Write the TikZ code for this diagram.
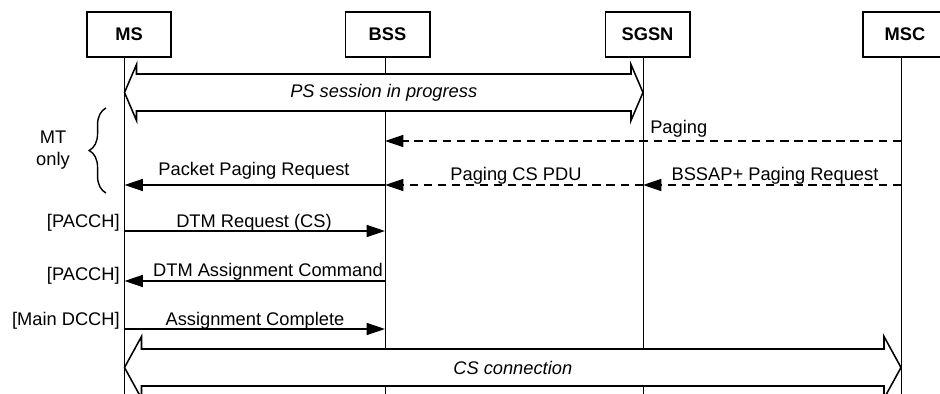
\documentclass[tikz,border=0pt]{standalone}
\usepackage{fontspec}
\setmainfont{Liberation Sans}
\usetikzlibrary{arrows.meta,decorations.pathreplacing}

\newcommand{\fatarrow}[7]{
	\pgfmathsetmacro{\FAxa}{#2}
	\pgfmathsetmacro{\FAxb}{#3}
	\pgfmathsetmacro{\FAy}{#4}
	\pgfmathsetmacro{\FAh}{#5}
	\pgfmathsetmacro{\FAw}{#6}
	\pgfmathsetmacro{\FAs}{18.5}
	\draw[fat] (\FAxa,\FAy) -- (\FAxa+\FAh,\FAy-\FAw) -- (\FAxa+\FAh,\FAy-\FAs) -- (\FAxb-\FAh,\FAy-\FAs) -- (\FAxb-\FAh,\FAy-\FAw) -- (\FAxb,\FAy)
		-- (\FAxb-\FAh,\FAy+\FAw) -- (\FAxb-\FAh,\FAy+\FAs) -- (\FAxa+\FAh,\FAy+\FAs) -- (\FAxa+\FAh,\FAy+\FAw) -- cycle;
	\node[font=\fontsize{13}{15.6}\selectfont\itshape] (#1) at ({(\FAxa+\FAxb)/2},\FAy) {#7};
}

\begin{document}
\begin{tikzpicture}[x=0.025cm,y=-0.025cm,font=\fontsize{13}{15.6}\selectfont,
	entity/.style={draw,line width=1.4pt,minimum width=2.1cm,minimum height=1.125cm,inner sep=0pt,font=\fontsize{13}{15.6}\selectfont\bfseries},
	life/.style={line width=0.7pt},
	msg/.style={line width=1.1pt,-{Triangle[length=13pt,width=8.5pt]}},
	pmsg/.style={msg,dash pattern=on 6pt off 4pt},
	fat/.style={line width=1.1pt,fill=white,line join=miter},
	lbl/.style={anchor=base,inner sep=0pt}]
\useasboundingbox (0,0) rectangle (940,394);

\pgfmathsetmacro{\xMS}{124.5}
\pgfmathsetmacro{\xBSS}{385}
\pgfmathsetmacro{\xSGSN}{643}
\pgfmathsetmacro{\xMSC}{901}

\node[entity] (ms) at (129,34.5) {MS};
\node[entity] (bss) at (387.5,34.5) {BSS};
\node[entity] (sgsn) at (647.5,34.5) {SGSN};
\node[entity] (msc) at (905,34.5) {MSC};

\coordinate (msEnd) at (\xMS,394);
\coordinate (bssEnd) at (\xBSS,394);
\coordinate (sgsnEnd) at (\xSGSN,394);
\coordinate (mscEnd) at (\xMSC,394);

\draw[life] (ms.south -| msEnd) -- (msEnd);
\draw[life] (bss.south -| bssEnd) -- (bssEnd);
\draw[life] (sgsn.south -| sgsnEnd) -- (sgsnEnd);
\draw[life] (msc.south -| mscEnd) -- (mscEnd);

% sessions
\fatarrow{ps}{\xMS}{\xSGSN}{92.5}{12}{28}{PS session in progress}
\fatarrow{cs}{\xMS}{\xMSC}{367.5}{17}{31}{CS connection}

% message rows
\coordinate (pg) at (0,141);
\coordinate (ppr) at (0,185);
\coordinate (dtmr) at (0,231);
\coordinate (dtma) at (0,281);
\coordinate (asc) at (0,329);

\draw[pmsg] (mscEnd |- pg) -- (bssEnd |- pg);
\draw[msg] (bssEnd |- ppr) -- (msEnd |- ppr);
\draw[pmsg] (sgsnEnd |- ppr) -- (bssEnd |- ppr);
\draw[pmsg] (mscEnd |- ppr) -- (sgsnEnd |- ppr);
\draw[msg] (msEnd |- dtmr) -- (bssEnd |- dtmr);
\draw[msg] (bssEnd |- dtma) -- (msEnd |- dtma);
\draw[msg] (msEnd |- asc) -- (bssEnd |- asc);

\node[lbl,anchor=base west] (lPg) at (650,133) {Paging};
\node[lbl] (lPpr) at (254,175) {Packet Paging Request};
\node[lbl] (lPcs) at (516,180) {Paging CS PDU};
\node[lbl] (lBssap) at (775,180) {BSSAP+ Paging Request};
\node[lbl] (lDtmr) at (254,227) {DTM Request (CS)};
\node[lbl,anchor=base east] (lDtma) at (383,276) {DTM Assignment Command};
\node[lbl] (lAsc) at (255,325) {Assignment Complete};

\node[lbl,anchor=base east] (chA) at (120,227) {[PACCH]};
\node[lbl,anchor=base east] (chB) at (120,280) {[PACCH]};
\node[lbl,anchor=base east] (chC) at (120,325) {[Main DCCH]};

% MT only brace
\coordinate (brTop) at (106,108);
\coordinate (brBot) at (106,193);
\draw[line width=1pt,decorate,decoration={brace,amplitude=12pt}] (brBot) -- (brTop);
\node[align=center] (mt) at (53,150) {MT\\only};
\end{tikzpicture}
\end{document}
